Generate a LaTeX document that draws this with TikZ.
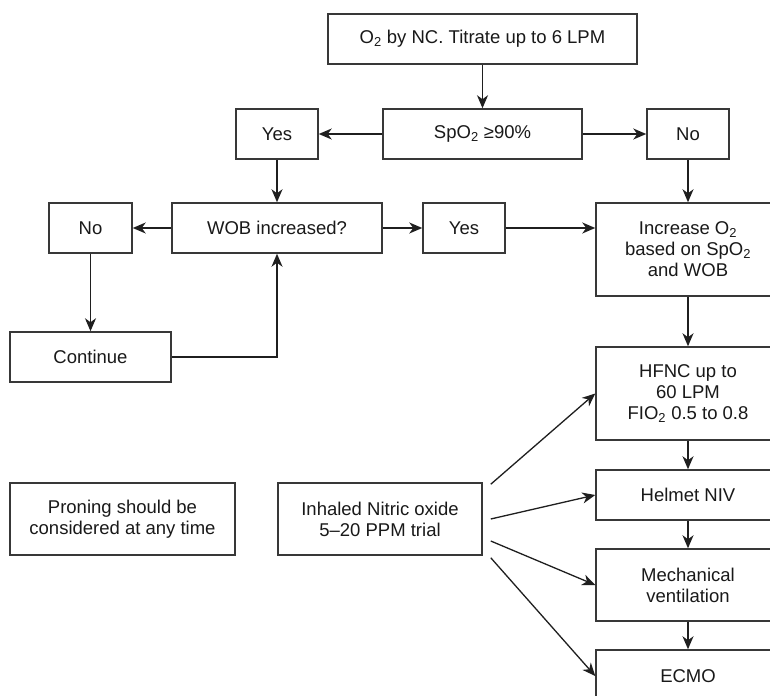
\documentclass[tikz,border=0pt]{standalone}
\usepackage{fontspec}
\setmainfont{Liberation Sans}
\usetikzlibrary{arrows.meta,calc}
\begin{document}
\begin{tikzpicture}[x=1bp,y=-1bp,
  box/.style={draw=black!78,line width=1.5bp,rectangle,inner sep=0pt,align=center,
    text=black!90,font=\fontsize{18.5bp}{21bp}\selectfont},
  arr/.style={draw=black!88,line width=1.3bp,-{Stealth[length=13bp,width=11bp,inset=4bp]}},
  ]
\useasboundingbox (0,0) rectangle (770,696);
\fill[white] (0,0) rectangle (770,696);
\node[box,minimum width=309bp,minimum height=50bp] (top) at (482.5,39) {O\textsubscript{2} by NC. Titrate up to 6 LPM};
\node[box,minimum width=199bp,minimum height=50bp] (spo) at (482.5,134) {SpO\textsubscript{2} ≥90\%};
\node[box,minimum width=82bp,minimum height=50bp] (yesa) at (277,134) {Yes};
\node[box,minimum width=82bp,minimum height=50bp] (noa) at (688,134) {No};
\node[box,minimum width=210bp,minimum height=50bp] (wob) at (277,228) {WOB increased?};
\node[box,minimum width=83bp,minimum height=50bp] (nob) at (90.5,228) {No};
\node[box,minimum width=82bp,minimum height=50bp] (yesb) at (464,228) {Yes};
\node[box,minimum width=184bp,minimum height=93bp] (incr) at (688,249.5) {Increase O\textsubscript{2}\\based on SpO\textsubscript{2}\\and WOB};
\node[box,minimum width=161bp,minimum height=50bp] (cont) at (90.5,357) {Continue};
\node[box,minimum width=184bp,minimum height=93bp] (hfnc) at (688,393.5) {HFNC up to\\60 LPM\\FIO\textsubscript{2} 0.5 to 0.8};
\node[box,minimum width=184bp,minimum height=50bp] (helm) at (688,495) {Helmet NIV};
\node[box,minimum width=184bp,minimum height=72bp] (mech) at (688,585) {Mechanical\\ventilation};
\node[box,minimum width=184bp,minimum height=52bp] (ecmo) at (688,676) {ECMO};
\node[box,minimum width=225bp,minimum height=72bp] (pron) at (122.5,519) {Proning should be\\considered at any time};
\node[box,minimum width=204bp,minimum height=72bp] (inh) at (380,519) {Inhaled Nitric oxide\\5–20 PPM trial};
% connectors
\draw[arr] (top) -- (spo);
\draw[arr] (spo) -- (yesa);
\draw[arr] (spo) -- (noa);
\draw[arr] (yesa) -- (wob);
\draw[arr] (noa) -- (incr);
\draw[arr] (wob) -- (nob);
\draw[arr] (wob) -- (yesb);
\draw[arr] (yesb.east) -- (yesb.east -| incr.west);
\draw[arr] (nob) -- (cont);
\draw[arr] (cont.east) -| (wob.south);
\draw[arr] (incr) -- (hfnc);
\draw[arr] (hfnc) -- (helm);
\draw[arr] (helm) -- (mech);
\draw[arr] (mech) -- (ecmo);
\coordinate (s1) at ($(inh.north east)+(8,2)$);
\coordinate (s2) at ($(inh.east)+(8,0)$);
\coordinate (s3) at ($(inh.east)+(8,22)$);
\coordinate (s4) at ($(inh.south east)+(8,2)$);
\draw[arr] (s1) -- (hfnc.west);
\draw[arr] (s2) -- (helm.west);
\draw[arr] (s3) -- (mech.west);
\draw[arr] (s4) -- (ecmo.west);
\end{tikzpicture}
\end{document}
